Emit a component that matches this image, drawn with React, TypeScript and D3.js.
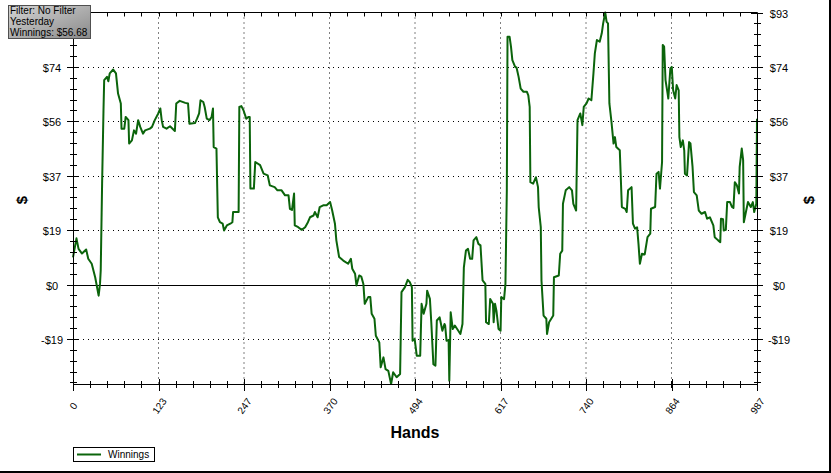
import React from "react";
import * as d3 from "d3";

const hands = [
  0, 5, 8, 13, 19, 22, 27, 32, 37, 39, 40, 42, 44, 45, 49, 51, 53, 58, 62, 65, 69, 70, 74, 76, 80, 81, 85, 88, 91, 94, 97,
  101, 104, 111, 114, 118, 123, 126, 128, 130, 135, 140, 147, 149, 154, 162, 166, 168, 176, 179, 182, 184, 188, 190, 193,
  197, 200, 202, 203, 207, 209, 212, 216, 218, 222, 227, 230, 231, 239, 240, 243, 246, 250, 253, 255, 256, 261, 263, 270,
  275, 281, 284, 291, 295, 301, 306, 311, 313, 316, 319, 320, 325, 330, 335, 339, 342, 347, 349, 353, 356, 361, 366, 371,
  374, 378, 380, 384, 390, 397, 401, 403, 407, 409, 413, 416, 419, 421, 426, 429, 431, 435, 437, 442, 444, 448, 451, 455,
  459, 462, 467, 472, 474, 479, 483, 486, 489, 490, 493, 496, 501, 503, 506, 510, 511, 515, 517, 520, 523, 525, 529, 533,
  536, 537, 539, 542, 543, 545, 548, 551, 556, 559, 562, 564, 567, 570, 573, 576, 578, 582, 585, 588, 591, 595, 596, 600,
  602, 606, 607, 609, 611, 614, 617, 618, 622, 624, 626, 627, 630, 632, 634, 638, 640, 643, 646, 650, 655, 657, 659, 660,
  664, 668, 671, 672, 675, 676, 679, 683, 684, 687, 693, 694, 701, 703, 706, 707, 711, 716, 720, 722, 726, 728, 732, 735,
  737, 741, 744, 748, 751, 753, 756, 760, 763, 765, 768, 770, 772, 774, 777, 780, 782, 784, 789, 792, 797, 799, 801, 806,
  808, 811, 814, 816, 818, 821, 825, 829, 833, 834, 840, 842, 845, 847, 850, 851, 853, 855, 858, 859, 862, 864, 866, 869,
  871, 874, 875, 877, 880, 882, 883, 886, 889, 891, 894, 896, 900, 903, 907, 912, 915, 919, 924, 926, 931, 934, 935, 938,
  939, 942, 944, 948, 951, 953, 955, 958, 961, 962, 965, 967, 968, 971, 974, 978, 981, 983, 986, 987,
];

const winnings = [
  9.3, 15.8, 12.2, 10.6, 12.0, 8.8, 7.1, 2.5, -3.8, 0.3, 4.8, 34.5, 59.6, 69.9, 71.0, 69.5, 72.2, 73.5, 72.2, 65.3, 61.9,
  53.3, 53.3, 57.3, 56.2, 48.2, 49.3, 52.7, 51.6, 56.2, 53.9, 51.6, 52.7, 53.3, 53.9, 56.2, 58.5, 60.2, 56.2, 53.9, 53.3,
  54.1, 52.5, 61.9, 62.8, 62.1, 61.9, 55.0, 55.2, 56.7, 58.5, 63.0, 62.4, 60.7, 56.7, 56.2, 57.3, 60.2, 47.0, 46.5, 23.0,
  21.3, 20.8, 18.5, 20.2, 20.8, 21.3, 24.8, 24.8, 60.7, 61.0, 59.6, 56.7, 57.3, 57.3, 32.8, 32.8, 41.9, 40.8, 37.9, 37.3,
  33.9, 33.3, 32.2, 32.2, 30.5, 30.5, 25.9, 25.5, 31.1, 20.2, 19.6, 18.7, 19.6, 21.3, 23.0, 23.6, 24.8, 23.0, 26.5, 27.1,
  27.1, 28.2, 25.3, 20.8, 15.1, 9.4, 8.2, 7.1, 8.8, 5.4, 3.7, -0.3, 3.1, 2.7, 0.2, -6.6, -4.3, -4.3, -10.0, -11.7, -17.5,
  -19.8, -28.3, -24.9, -28.9, -29.5, -34.0, -30.0, -31.7, -30.6, -2.6, -0.9, 1.6, 0.8, -0.9, -19.2, -18.6, -24.3, -24.3,
  -6.6, -10.0, -6.6, -2.1, -4.9, -12.9, -27.2, -27.7, -12.3, -11.2, -15.8, -13.5, -14.0, -19.2, -19.0, -32.9, -9.5, -15.2,
  -14.0, -15.8, -16.9, -13.5, 5.9, 11.6, 12.2, 8.8, 8.8, 15.1, 16.2, 13.9, 13.4, 1.4, 0.2, -12.9, -13.5, -4.9, -6.6, -12.9,
  -6.6, -8.9, -15.2, -15.8, -4.3, -5.0, 0.2, 32.2, 84.7, 84.7, 81.3, 76.7, 74.4, 74.2, 71.0, 67.0, 65.9, 65.9, 64.7, 60.7,
  35.0, 34.5, 36.7, 33.3, 26.5, 19.6, 1.4, -10.6, -11.7, -16.9, -12.9, -10.6, 2.5, 3.1, 10.5, 11.6, 27.6, 32.2, 33.3, 32.2,
  27.6, 25.3, 56.2, 58.5, 54.5, 60.7, 61.9, 63.6, 63.0, 72.2, 79.0, 83.6, 83.0, 85.9, 89.3, 93.0, 89.8, 89.3, 61.9, 55.6,
  48.2, 50.4, 47.0, 45.9, 26.5, 25.9, 24.8, 32.2, 33.3, 20.8, 19.1, 19.6, 13.9, 7.1, 10.5, 10.3, 16.2, 17.4, 25.9, 26.5,
  37.9, 38.5, 32.8, 41.9, 81.9, 81.3, 69.9, 65.3, 63.6, 73.9, 74.4, 66.4, 63.6, 68.2, 66.4, 50.4, 47.0, 49.3, 45.9, 37.9,
  37.3, 48.7, 48.2, 40.2, 31.6, 30.5, 25.3, 24.2, 24.8, 22.5, 23.0, 20.2, 16.2, 15.1, 14.5, 22.5, 22.3, 18.5, 18.7, 28.2,
  28.2, 26.5, 26.2, 35.0, 33.9, 31.1, 40.2, 46.5, 42.5, 21.3, 24.8, 28.2, 26.5, 28.2, 24.8, 27.6, 56.68,
];

const xTickValues = [0, 123.375, 246.75, 370.125, 493.5, 616.875, 740.25, 863.625, 987];
const xTickLabels = ["0", "123", "247", "370", "494", "617", "740", "864", "987"];
const yTickValues = [-18.6, 0, 18.6, 37.2, 55.8, 74.4, 93];
const yTickLabels = ["-$19", "$0", "$19", "$37", "$56", "$74", "$93"];
const infoLines = ["Filter: No Filter", "Yesterday", "Winnings: $56.68"];
const seriesName = "Winnings";
const xTitle = "Hands";
const yTitle = "$";

const W = 831;
const H = 473;
const L = 73;
const R = 757;
const T = 12.5;
const B = 384;
const FONT = "'Liberation Sans', Arial, sans-serif";
const GREEN = "#0b640b";

export default function App() {
  const data = hands.map((h, i) => ({ h, v: winnings[i] }));
  const yMin = d3.min(winnings) as number;
  const yMax = d3.max(winnings) as number;
  const x = d3.scaleLinear().domain([0, 987]).range([L, R]);
  const y = d3.scaleLinear().domain([yMin, yMax]).range([B, T]);
  const line = d3
    .line<{ h: number; v: number }>()
    .x((d) => x(d.h))
    .y((d) => y(d.v));

  const xStep = (xTickValues[1] - xTickValues[0]) / 5;
  const xMinor: number[] = [];
  for (let v = 0; v <= 987 + 1e-6; v += xStep) xMinor.push(v);
  const yStep = (yTickValues[1] - yTickValues[0]) / 5;
  const yMinor: number[] = [];
  for (let v = 0; v <= yMax + 1e-6; v += yStep) yMinor.push(v);
  for (let v = -yStep; v >= yMin - 1e-6; v -= yStep) yMinor.push(v);

  return (
    <svg
      width={W}
      height={H}
      style={{ position: "absolute", left: 0, top: 0, background: "#fff" }}
      fontFamily={FONT}
    >
      <defs>
        <linearGradient id="infoGrad" x1="0" y1="0" x2="1" y2="1">
          <stop offset="0%" stopColor="#d4d4d4" />
          <stop offset="100%" stopColor="#8a8a8a" />
        </linearGradient>
      </defs>
      <rect x={0} y={0} width={W} height={H} fill="#fff" />

      {/* grid */}
      {xTickValues.slice(1, -1).map((v, i) => (
        <line key={"gx" + i} x1={x(v)} x2={x(v)} y1={T} y2={B} stroke="#000" strokeDasharray="1,4" strokeWidth={1} />
      ))}
      {yTickValues.filter((v) => v !== 0 && v < yMax - 0.01).map((v, i) => (
        <line key={"gy" + i} x1={L} x2={R} y1={Math.round(y(v)) + 0.5} y2={Math.round(y(v)) + 0.5} stroke="#000" strokeDasharray="1,4" strokeWidth={1} />
      ))}
      <line x1={L} x2={R} y1={Math.round(y(0)) + 0.5} y2={Math.round(y(0)) + 0.5} stroke="#000" strokeWidth={1} />

      {/* series */}
      <path d={line(data) || ""} fill="none" stroke={GREEN} strokeWidth={2} strokeLinejoin="round" />

      {/* frame axes */}
      <line x1={L} x2={R} y1={T} y2={T} stroke="#000" />
      <line x1={L} x2={R} y1={B + 0.5} y2={B + 0.5} stroke="#000" />
      <line x1={L + 0.5} x2={L + 0.5} y1={T} y2={B + 0.5} stroke="#000" />
      <line x1={R + 0.5} x2={R + 0.5} y1={T} y2={B + 0.5} stroke="#000" />

      {/* x ticks */}
      {xMinor.map((v, i) => {
        const px = Math.round(x(v)) + 0.5;
        return (
          <g key={"xm" + i}>
            <line x1={px} x2={px} y1={B - 3} y2={B + 4} stroke="#000" />
            <line x1={px} x2={px} y1={T} y2={T + 4} stroke="#000" />
          </g>
        );
      })}
      {xTickValues.map((v, i) => {
        const px = Math.round(x(v)) + 0.5;
        return (
          <g key={"xt" + i}>
            <line x1={px} x2={px} y1={B - 5} y2={B + 7} stroke="#000" />
            <text
              x={px}
              y={406}
              fontSize={10}
              textAnchor="middle"
              dominantBaseline="central"
              transform={`rotate(-55 ${px} 406)`}
              fill="#000"
            >
              {xTickLabels[i]}
            </text>
          </g>
        );
      })}

      {/* y ticks */}
      {yMinor.map((v, i) => {
        const py = Math.round(y(v)) + 0.5;
        return (
          <g key={"ym" + i}>
            <line x1={L - 3} x2={L + 4} y1={py} y2={py} stroke="#000" />
            <line x1={R - 3} x2={R + 4} y1={py} y2={py} stroke="#000" />
          </g>
        );
      })}
      {yTickValues.map((v, i) => {
        const py = Math.round(y(v)) + 0.5;
        return (
          <g key={"yt" + i}>
            <line x1={L - 6} x2={L + 5} y1={py} y2={py} stroke="#000" />
            <line x1={R - 6} x2={R + 6} y1={py} y2={py} stroke="#000" />
            {v < yMax - 0.01 && (
              <text x={52} y={py} fontSize={11} textAnchor="middle" dominantBaseline="central" fill="#000">
                {yTickLabels[i]}
              </text>
            )}
            <text x={779} y={py} fontSize={11} textAnchor="middle" dominantBaseline="central" fill="#000">
              {yTickLabels[i]}
            </text>
          </g>
        );
      })}

      {/* axis titles */}
      <text x={415} y={438} fontSize={16} fontWeight="bold" textAnchor="middle" fill="#000">
        {xTitle}
      </text>
      <text x={21} y={200} fontSize={15} fontWeight="bold" textAnchor="middle" dominantBaseline="central" transform="rotate(-90 21 200)">
        {yTitle}
      </text>
      <text x={808} y={200} fontSize={15} fontWeight="bold" textAnchor="middle" dominantBaseline="central" transform="rotate(-90 808 200)">
        {yTitle}
      </text>

      {/* info box */}
      <rect x={8.5} y={5.5} width={82} height={33} fill="url(#infoGrad)" stroke="#505050" />
      {infoLines.map((t, i) => (
        <text key={"info" + i} x={10} y={10.5 + i * 11} fontSize={10} dominantBaseline="central" fill="#000">
          {t}
        </text>
      ))}

      {/* legend */}
      <rect x={73.5} y={447.5} width={81} height={14} fill="#fff" stroke="#000" />
      <line x1={77} x2={101} y1={454.5} y2={454.5} stroke={GREEN} strokeWidth={2} />
      <text x={108} y={454.5} fontSize={10} dominantBaseline="central" fill="#000">
        {seriesName}
      </text>

      {/* outer border */}
      <line x1={830} x2={830} y1={0} y2={H} stroke="#000" strokeWidth={2} />
      <line x1={0} x2={W} y1={472} y2={472} stroke="#000" strokeWidth={2} />
    </svg>
  );
}
